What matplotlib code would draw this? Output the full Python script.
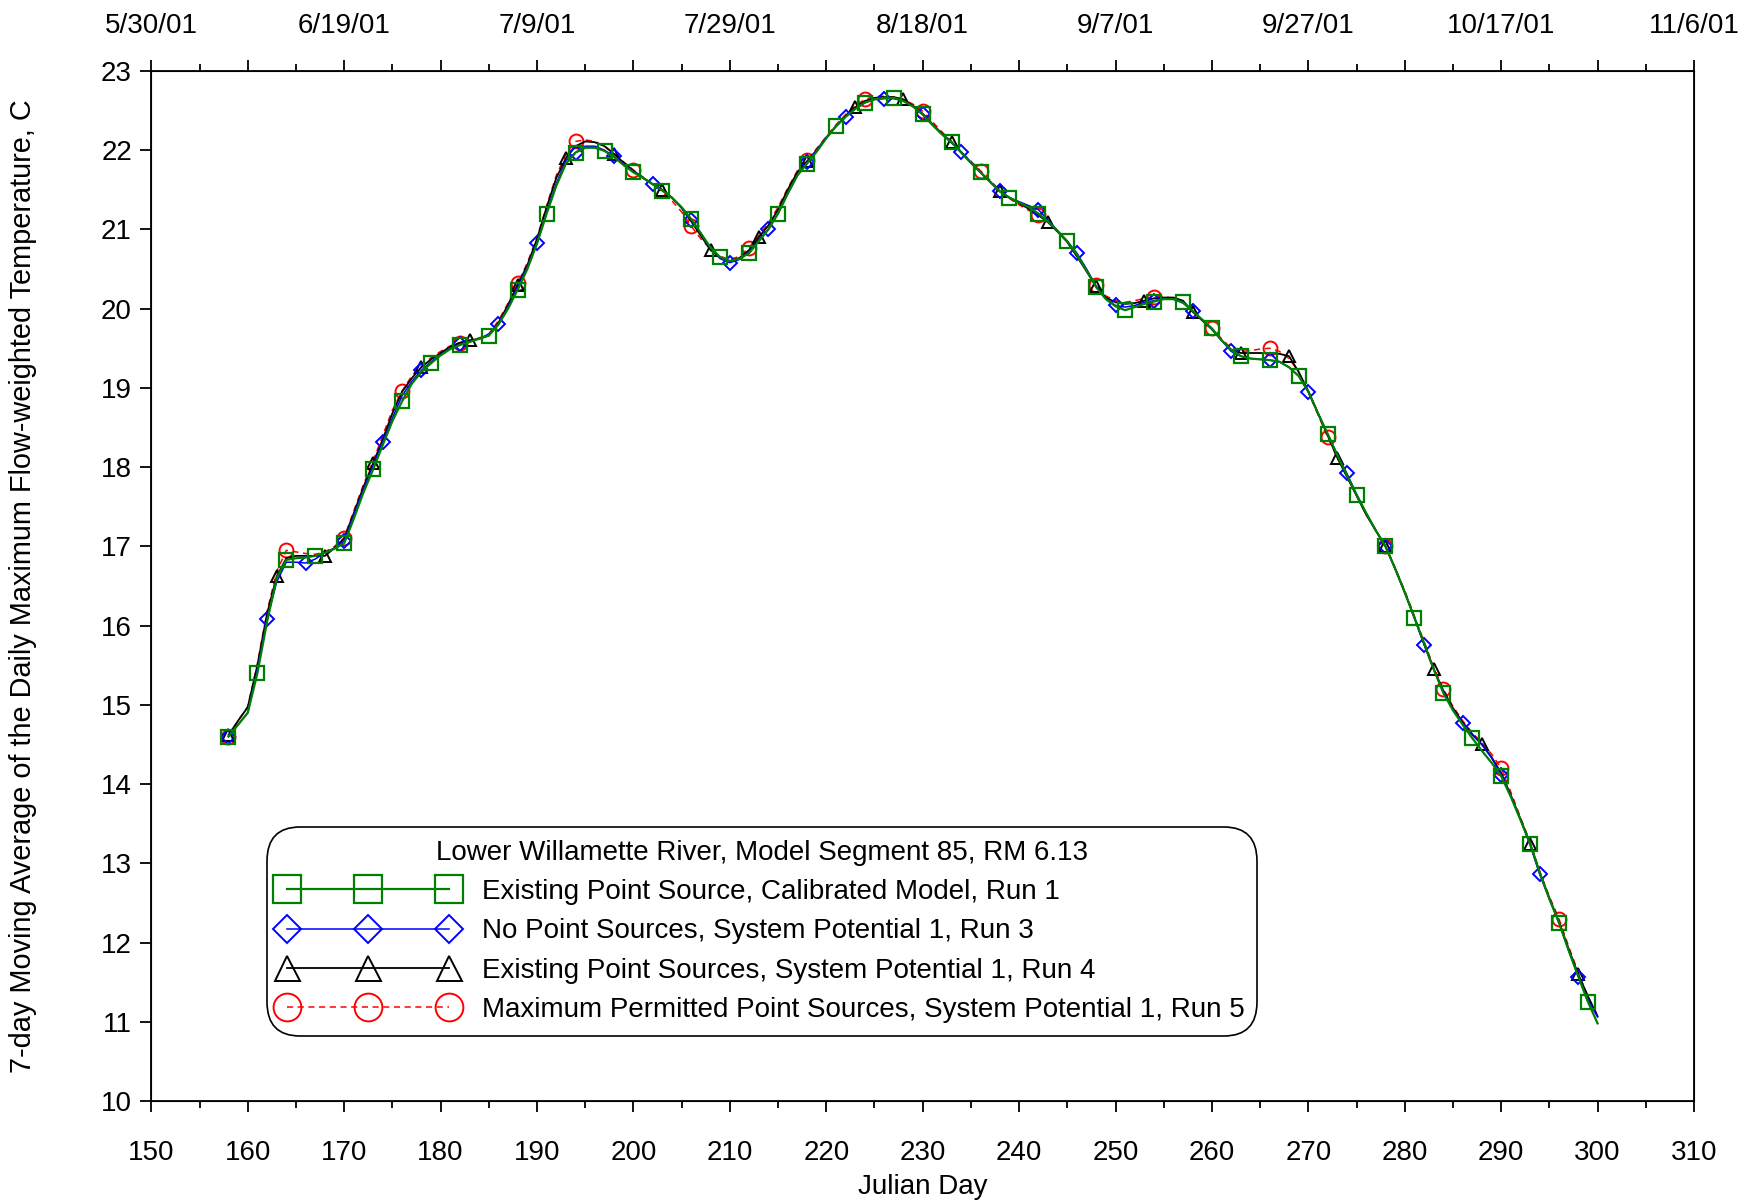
import matplotlib
matplotlib.use('Agg')
import matplotlib.pyplot as plt
import numpy as np
from matplotlib.ticker import MultipleLocator, FixedLocator

plt.rcParams['font.family'] = ['Liberation Sans', 'DejaVu Sans']

days = np.arange(158, 301)

# Existing Point Source, Calibrated Model, Run 1
run1 = [14.60, 14.75, 14.90, 15.40, 16.05, 16.60, 16.83, 16.85, 16.86, 16.88,
        16.92, 16.97, 17.04, 17.35, 17.68, 17.97, 18.28, 18.58, 18.83, 19.05,
        19.20, 19.31, 19.41, 19.49, 19.54, 19.58, 19.62, 19.66, 19.80, 20.00,
        20.24, 20.50, 20.82, 21.20, 21.55, 21.83, 21.97, 22.03, 22.03, 21.99,
        21.91, 21.81, 21.72, 21.65, 21.57, 21.49, 21.40, 21.28, 21.13, 20.95,
        20.77, 20.65, 20.60, 20.63, 20.70, 20.85, 21.00, 21.20, 21.45, 21.68,
        21.83, 21.98, 22.15, 22.30, 22.42, 22.52, 22.60, 22.64, 22.66, 22.66,
        22.62, 22.55, 22.45, 22.32, 22.20, 22.10, 21.97, 21.84, 21.72, 21.60,
        21.48, 21.40, 21.34, 21.28, 21.20, 21.10, 20.98, 20.85, 20.68, 20.48,
        20.27, 20.12, 20.03, 19.98, 20.02, 20.06, 20.09, 20.12, 20.12, 20.08,
        19.97, 19.86, 19.75, 19.60, 19.48, 19.40, 19.37, 19.36, 19.35, 19.33,
        19.26, 19.15, 18.95, 18.68, 18.42, 18.15, 17.90, 17.65, 17.42, 17.20,
        17.00, 16.72, 16.42, 16.10, 15.78, 15.45, 15.15, 14.93, 14.75, 14.58,
        14.42, 14.27, 14.10, 13.84, 13.55, 13.25, 12.88, 12.55, 12.25, 11.90,
        11.57, 11.25, 10.98]

# No Point Sources, System Potential 1, Run 3
run3 = [14.60, 14.75, 14.90, 15.45, 16.08, 16.55, 16.80, 16.80, 16.79, 16.84,
        16.92, 16.98, 17.07, 17.40, 17.72, 18.02, 18.32, 18.62, 18.90, 19.08,
        19.22, 19.33, 19.42, 19.50, 19.55, 19.58, 19.62, 19.68, 19.80, 20.02,
        20.28, 20.53, 20.83, 21.22, 21.58, 21.87, 21.97, 22.05, 22.05, 22.00,
        21.92, 21.82, 21.73, 21.65, 21.57, 21.49, 21.40, 21.27, 21.12, 20.95,
        20.76, 20.63, 20.58, 20.62, 20.72, 20.87, 21.00, 21.20, 21.45, 21.68,
        21.85, 22.00, 22.16, 22.30, 22.42, 22.52, 22.60, 22.64, 22.65, 22.65,
        22.62, 22.55, 22.45, 22.32, 22.20, 22.09, 21.98, 21.85, 21.72, 21.60,
        21.48, 21.40, 21.35, 21.30, 21.25, 21.12, 20.98, 20.85, 20.70, 20.50,
        20.28, 20.12, 20.04, 20.02, 20.04, 20.08, 20.10, 20.13, 20.12, 20.07,
        19.97, 19.86, 19.74, 19.60, 19.46, 19.40, 19.37, 19.36, 19.35, 19.33,
        19.26, 19.15, 18.95, 18.68, 18.42, 18.16, 17.92, 17.66, 17.42, 17.20,
        17.00, 16.72, 16.42, 16.10, 15.76, 15.45, 15.16, 14.94, 14.77, 14.62,
        14.50, 14.33, 14.12, 13.85, 13.55, 13.23, 12.86, 12.55, 12.25, 11.90,
        11.57, 11.28, 11.06]

# Existing Point Sources, System Potential 1, Run 4
run4 = [14.62, 14.80, 14.97, 15.50, 16.15, 16.62, 16.85, 16.88, 16.88, 16.88,
        16.88, 16.98, 17.10, 17.42, 17.75, 18.05, 18.35, 18.68, 18.95, 19.12,
        19.26, 19.36, 19.44, 19.52, 19.57, 19.60, 19.62, 19.66, 19.82, 20.05,
        20.30, 20.55, 20.88, 21.28, 21.65, 21.90, 22.05, 22.11, 22.10, 22.05,
        21.95, 21.84, 21.74, 21.65, 21.57, 21.50, 21.40, 21.27, 21.10, 20.92,
        20.74, 20.64, 20.60, 20.64, 20.74, 20.90, 21.05, 21.25, 21.50, 21.72,
        21.86, 22.00, 22.16, 22.30, 22.43, 22.54, 22.62, 22.66, 22.67, 22.67,
        22.64, 22.56, 22.46, 22.33, 22.21, 22.10, 21.97, 21.84, 21.72, 21.60,
        21.48, 21.40, 21.33, 21.26, 21.18, 21.09, 20.97, 20.84, 20.66, 20.47,
        20.28, 20.14, 20.08, 20.06, 20.07, 20.10, 20.13, 20.14, 20.14, 20.10,
        19.96, 19.85, 19.74, 19.60, 19.48, 19.44, 19.44, 19.44, 19.44, 19.43,
        19.40, 19.20, 18.96, 18.68, 18.40, 18.12, 17.88, 17.64, 17.40, 17.20,
        17.00, 16.72, 16.42, 16.10, 15.77, 15.45, 15.18, 14.96, 14.78, 14.63,
        14.50, 14.34, 14.14, 13.86, 13.56, 13.25, 12.88, 12.56, 12.26, 11.92,
        11.60, 11.32, 11.07]

# Maximum Permitted Point Sources, System Potential 1, Run 5
run5 = [14.60, 14.80, 14.98, 15.52, 16.18, 16.68, 16.95, 16.93, 16.91, 16.90,
        16.93, 17.00, 17.11, 17.45, 17.78, 18.08, 18.40, 18.72, 18.96, 19.15,
        19.28, 19.38, 19.46, 19.53, 19.57, 19.60, 19.63, 19.68, 19.85, 20.07,
        20.32, 20.58, 20.90, 21.30, 21.68, 21.95, 22.11, 22.13, 22.11, 22.05,
        21.96, 21.85, 21.75, 21.66, 21.57, 21.47, 21.36, 21.22, 21.04, 20.88,
        20.75, 20.66, 20.62, 20.66, 20.77, 20.92, 21.08, 21.28, 21.52, 21.74,
        21.88, 22.02, 22.17, 22.32, 22.45, 22.56, 22.64, 22.68, 22.68, 22.67,
        22.64, 22.58, 22.49, 22.36, 22.23, 22.11, 21.98, 21.86, 21.74, 21.62,
        21.49, 21.39, 21.31, 21.24, 21.18, 21.10, 20.98, 20.84, 20.66, 20.48,
        20.30, 20.16, 20.10, 20.08, 20.10, 20.13, 20.15, 20.15, 20.13, 20.08,
        19.97, 19.86, 19.75, 19.62, 19.50, 19.46, 19.47, 19.49, 19.50, 19.46,
        19.37, 19.20, 18.95, 18.66, 18.38, 18.12, 17.88, 17.64, 17.40, 17.20,
        17.00, 16.73, 16.44, 16.12, 15.80, 15.48, 15.20, 14.98, 14.80, 14.65,
        14.52, 14.38, 14.20, 13.90, 13.58, 13.27, 12.90, 12.58, 12.30, 11.95,
        11.62, 11.32, 11.08]

date_ticks = [150, 170, 190, 210, 230, 250, 270, 290, 310]
date_labels = ['5/30/01', '6/19/01', '7/9/01', '7/29/01', '8/18/01',
               '9/7/01', '9/27/01', '10/17/01', '11/6/01']

FS = 20

fig = plt.figure(figsize=(17.6, 12.02), dpi=100)
ax = fig.add_axes([0.086, 0.084, 0.8765, 0.857])

ax.plot(days, run5, color='red', ls=(0, (4, 3)), lw=1.1, marker='o', ms=10,
        mfc='none', mec='red', mew=1.4, markevery=6,
        label='Maximum Permitted Point Sources, System Potential 1, Run 5')
ax.plot(days, run4, color='black', lw=1.3, marker='^', ms=9,
        mfc='none', mec='black', mew=1.4, markevery=5,
        label='Existing Point Sources, System Potential 1, Run 4')
ax.plot(days, run3, color='blue', lw=1.1, marker='D', ms=7,
        mfc='none', mec='blue', mew=1.4, markevery=4,
        label='No Point Sources, System Potential 1, Run 3')
ax.plot(days, run1, color='green', lw=1.6, marker='s', ms=10,
        mfc='none', mec='green', mew=1.6, markevery=3,
        label='Existing Point Source, Calibrated Model, Run 1')

ax.set_xlim(150, 310)
ax.set_ylim(10, 23)
ax.xaxis.set_major_locator(MultipleLocator(10))
ax.xaxis.set_minor_locator(MultipleLocator(5))
ax.yaxis.set_major_locator(MultipleLocator(1))
ax.tick_params(axis='both', which='major', labelsize=FS, length=8, width=1.3,
               direction='out')
ax.tick_params(axis='x', which='major', pad=20)
ax.tick_params(axis='y', which='major', pad=6)
ax.tick_params(axis='x', which='minor', length=5, width=1.3, direction='out')
for s in ax.spines.values():
    s.set_linewidth(1.3)

ax.set_xlabel('Julian Day', fontsize=FS, labelpad=6)
ax.set_ylabel('7-day Moving Average of the Daily Maximum Flow-weighted Temperature, C',
              fontsize=20.8)
ax.yaxis.set_label_coords(-0.074, 0.5)

top = ax.twiny()
top.set_xlim(150, 310)
top.xaxis.set_major_locator(FixedLocator(np.arange(150, 311, 10)))
top.xaxis.set_minor_locator(MultipleLocator(5))
lbls = []
for t in np.arange(150, 311, 10):
    lbls.append(date_labels[date_ticks.index(t)] if t in date_ticks else '')
top.set_xticklabels(lbls)
top.tick_params(axis='x', which='major', labelsize=FS, length=8, width=1.3, pad=15)
top.tick_params(axis='x', which='minor', length=5, width=1.3)

handles, labels = ax.get_legend_handles_labels()
leg = ax.legend(handles[::-1], labels[::-1], loc='lower left',
                bbox_to_anchor=(0.081, 0.073), borderaxespad=0,
                title='Lower Willamette River, Model Segment 85, RM 6.13',
                title_fontsize=FS, fontsize=FS, numpoints=3, markerscale=2.0,
                handlelength=6.4, handletextpad=0.9, labelspacing=0.48,
                fancybox=True, edgecolor='black', framealpha=1,
                borderpad=0.1)
leg.get_frame().set_linewidth(1.2)
leg.get_frame().set_boxstyle('round', pad=0.35, rounding_size=1.2)

fig.savefig('out.png', dpi=100)
